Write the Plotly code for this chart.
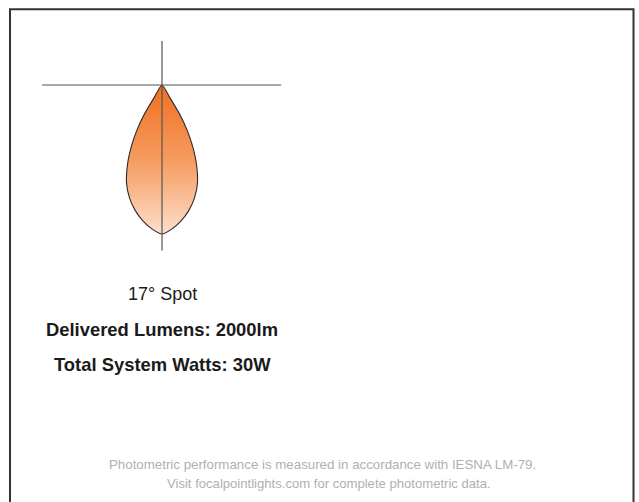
import numpy as np
import plotly.graph_objects as go

# ---- data: relative luminous intensity (% of peak) vs angle from nadir (deg)
angles_deg = [0, 4, 8, 12, 16, 20, 24, 27, 29, 31, 32, 33]
intensity_pct = [100, 96.8, 92.1, 86.2, 79.0, 69.7, 56.2, 44.0, 35.0, 24.6, 9.4, 0]

beam_label = "17° Spot"
lumens_label = "Delivered Lumens: 2000lm"
watts_label = "Total System Watts: 30W"
footer_lines = ["Photometric performance is measured in accordance with IESNA LM-79.",
                "Visit focalpointlights.com for complete photometric data."]

W, H = 639, 502
PX_PER_UNIT = 1.49
APEX_PX = (162, 85)

# mirror the curve to both sides of nadir
th = np.radians(np.array([-a for a in angles_deg[::-1]] + angles_deg[1:]))
r = np.array(intensity_pct[::-1] + intensity_pct[1:])
x = r * np.sin(th)
y = -r * np.cos(th)

fig = go.Figure()
fig.add_trace(go.Scatter(
    x=x, y=y, mode="lines", fill="toself",
    line=dict(color="#2a2a2a", width=1.1, shape="spline", smoothing=0.6),
    fillgradient=dict(type="vertical",
                      colorscale=[[0, "#FDDFCB"], [0.5, "#F59B5E"], [1, "#F06F22"]]),
    hoverinfo="skip", showlegend=False))

# cross-hair lines
fig.add_shape(type="line", x0=-80.5, x1=80, y0=0, y1=0,
              line=dict(color="#555555", width=1.2), layer="above")
fig.add_shape(type="line", x0=0, x1=0, y0=29.5, y1=-111,
              line=dict(color="#555555", width=1.2), layer="above")

# outer frame
fig.add_shape(type="rect", xref="paper", yref="paper",
              x0=10 / W, x1=633.5 / W, y0=-0.2, y1=1 - 9.3 / H,
              line=dict(color="#333333", width=2), layer="above")

def py(p):
    return 1 - p / H

font = "Liberation Sans, Arial, Helvetica, sans-serif"
fig.add_annotation(x=162 / W, y=py(294), xref="paper", yref="paper", text=beam_label,
                   showarrow=False, xanchor="center", yanchor="middle",
                   font=dict(family=font, size=18, color="#1a1a1a"))
fig.add_annotation(x=162 / W, y=py(329), xref="paper", yref="paper", text="<b>" + lumens_label + "</b>",
                   showarrow=False, xanchor="center", yanchor="middle",
                   font=dict(family=font, size=18.4, color="#1a1a1a"))
fig.add_annotation(x=162 / W, y=py(364), xref="paper", yref="paper", text="<b>" + watts_label + "</b>",
                   showarrow=False, xanchor="center", yanchor="middle",
                   font=dict(family=font, size=18.4, color="#1a1a1a"))
fig.add_annotation(x=322.5 / W, y=py(464), xref="paper", yref="paper", text=footer_lines[0],
                   showarrow=False, xanchor="center", yanchor="middle",
                   font=dict(family=font, size=13.3, color="#b0b0b0"))
fig.add_annotation(x=329 / W, y=py(483), xref="paper", yref="paper", text=footer_lines[1],
                   showarrow=False, xanchor="center", yanchor="middle",
                   font=dict(family=font, size=13.1, color="#b0b0b0"))

fig.update_xaxes(range=[-APEX_PX[0] / PX_PER_UNIT, (W - APEX_PX[0]) / PX_PER_UNIT],
                 visible=False, fixedrange=True)
fig.update_yaxes(range=[-(H - APEX_PX[1]) / PX_PER_UNIT, APEX_PX[1] / PX_PER_UNIT],
                 visible=False, fixedrange=True)
fig.update_layout(width=W, height=H, margin=dict(l=0, r=0, t=0, b=0),
                  paper_bgcolor="white", plot_bgcolor="white", showlegend=False)

fig.write_html("out.html", config={"displayModeBar": False},
               post_script="document.body.style.margin='0';document.body.style.overflow='hidden';")
